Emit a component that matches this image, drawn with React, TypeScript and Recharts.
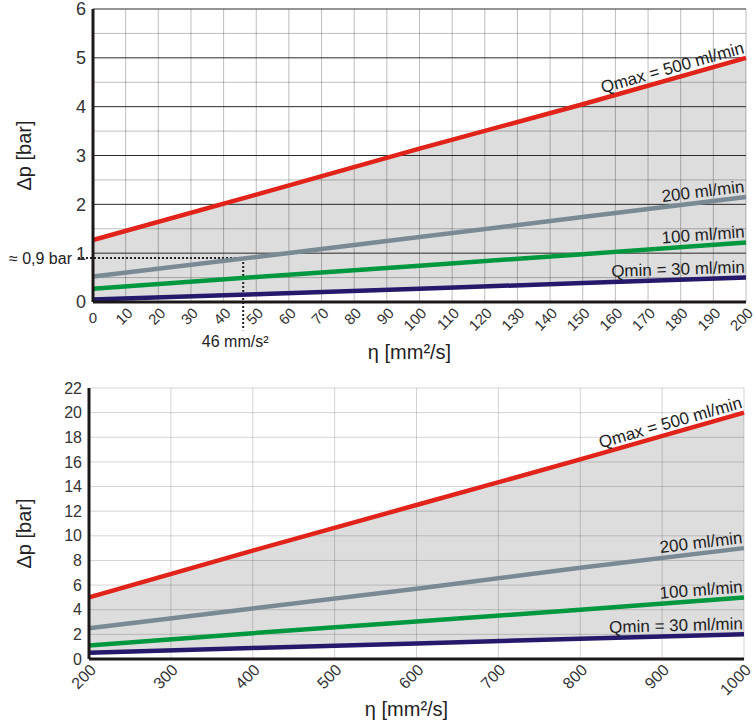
import {
  Area,
  CartesianGrid,
  ComposedChart,
  Line,
  ReferenceLine,
  XAxis,
  YAxis,
} from "recharts";

const FONT = "'Liberation Sans', Arial, sans-serif";

// upper chart, 0..200 mm²/s
const lowEta = [0, 50, 100, 150, 200];
const lowQmax = [1.27, 2.2, 3.14, 4.05, 5.0];
const low200 = [0.52, 0.92, 1.33, 1.74, 2.15];
const low100 = [0.27, 0.51, 0.74, 0.98, 1.22];
const lowQmin = [0.05, 0.16, 0.27, 0.39, 0.5];
const lowXTicks = [0, 10, 20, 30, 40, 50, 60, 70, 80, 90, 100, 110, 120, 130, 140, 150, 160, 170, 180, 190, 200];
const lowYTicks = [0, 1, 2, 3, 4, 5, 6];
const lowYMinor = [0, 0.5, 1.5, 2.5, 3.5, 4.5, 5.5];
const lowMajor = [1, 2, 3, 4, 5, 6];

// lower chart, 200..1000 mm²/s
const highEta = [200, 400, 600, 800, 1000];
const highQmax = [5.0, 8.8, 12.5, 16.2, 20.0];
const high200 = [2.5, 4.1, 5.7, 7.4, 9.0];
const high100 = [1.1, 2.1, 3.05, 4.0, 5.0];
const highQmin = [0.5, 0.9, 1.25, 1.65, 2.0];
const highXTicks = [200, 300, 400, 500, 600, 700, 800, 900, 1000];
const highYTicks = [0, 2, 4, 6, 8, 10, 12, 14, 16, 18, 20, 22];

// example reading in the upper chart
const markEta = 46;
const markDp = 0.9;

const seriesKeys = ["qmax", "q200", "q100", "qmin"];
const seriesNames = ["Qmax = 500 ml/min", "200 ml/min", "100 ml/min", "Qmin = 30 ml/min"];
const seriesColors = ["#e2231a", "#7a8a94", "#00983f", "#24196b"];

function buildRows(eta: number[], qmax: number[], q200: number[], q100: number[], qmin: number[]) {
  return eta.map((e, i) => ({
    eta: e,
    qmax: qmax[i],
    q200: q200[i],
    q100: q100[i],
    qmin: qmin[i],
    band: [qmin[i], qmax[i]],
  }));
}

const RotTick = (props: any) => {
  const { x, y, payload, fs, upright0 } = props;
  if (upright0 && payload.value === 0) {
    return (
      <text x={x} y={y + 21} textAnchor="middle" style={{ fontSize: fs }} fill="#333" fontFamily={FONT}>
        0
      </text>
    );
  }
  const ax = x + 8;
  const ay = y + 12;
  return (
    <text
      x={ax}
      y={ay}
      transform={`rotate(-45 ${ax} ${ay})`}
      textAnchor="end"
      style={{ fontSize: fs }}
      fill="#333"
      fontFamily={FONT}
    >
      {payload.value}
    </text>
  );
};

function Panel(props: any) {
  const { width, height, margin, yAxisWidth, xAxisHeight, xDomain, yDomain, xTicks, yTicks, rows, yFont, xFont, gridOpacity, yTitleDy, children, hValues } = props;
  const plotW = width - margin.left - margin.right - yAxisWidth;
  const plotH = height - margin.top - margin.bottom - xAxisHeight;
  const pxPerX = plotW / (xDomain[1] - xDomain[0]);
  const pxPerY = plotH / (yDomain[1] - yDomain[0]);
  const n = rows.length;

  const endLabel = (key: string, name: string) => {
    const a = rows[n - 2];
    const b = rows[n - 1];
    const angle = (-Math.atan(((b[key] - a[key]) * pxPerY) / ((b.eta - a.eta) * pxPerX)) * 180) / Math.PI;
    return (p: any) => {
      if (p.index !== n - 1) return <g />;
      const x = p.x - 1;
      const y = p.y - 5;
      return (
        <text
          x={x}
          y={y}
          transform={`rotate(${angle} ${x} ${y})`}
          textAnchor="end"
          fontSize={17}
          fill="#222"
          fontFamily={FONT}
        >
          {name}
        </text>
      );
    };
  };

  return (
    <ComposedChart width={width} height={height} data={rows} margin={margin}>
      <Area
        dataKey="band"
        stroke="none"
        fill="#000"
        fillOpacity={0.135}
        isAnimationActive={false}
        activeDot={false}
      />
      <CartesianGrid stroke="#000" strokeOpacity={gridOpacity} horizontalValues={hValues} />
      {children}
      <XAxis
        type="number"
        dataKey="eta"
        domain={xDomain}
        ticks={xTicks}
        interval={0}
        height={xAxisHeight}
        tickLine={false}
        tickSize={0}
        tickMargin={0}
        axisLine={{ stroke: "#1c1818", strokeWidth: 3 }}
        tick={<RotTick fs={xFont} upright0={xDomain[0] === 0} />}
        label={(lp: any) => {
          const vb = lp.viewBox;
          return (
            <text x={vb.x + vb.width / 2 - 10} y={vb.y + 57} textAnchor="middle" fontSize={20} fill="#222" fontFamily={FONT}>
              η [mm²/s]
            </text>
          );
        }}
      />
      <YAxis
        type="number"
        domain={yDomain}
        ticks={yTicks}
        interval={0}
        width={yAxisWidth}
        tickLine={false}
        tickSize={0}
        tickMargin={7}
        axisLine={{ stroke: "#1c1818", strokeWidth: 3 }}
        tick={{ fontSize: yFont, fill: "#333", fontFamily: FONT }}
        label={(lp: any) => {
          const vb = lp.viewBox;
          const cx = vb.x + 24;
          const cy = vb.y + vb.height / 2 + yTitleDy;
          return (
            <text
              x={cx}
              y={cy}
              transform={`rotate(-90 ${cx} ${cy})`}
              textAnchor="middle"
              dominantBaseline="central"
              fontSize={20}
              fill="#222"
              fontFamily={FONT}
            >
              Δp [bar]
            </text>
          );
        }}
      />
      {seriesKeys.map((k, i) => (
        <Line
          key={k}
          dataKey={k}
          type="linear"
          stroke={seriesColors[i]}
          strokeWidth={4.5}
          dot={false}
          activeDot={false}
          isAnimationActive={false}
          label={endLabel(k, seriesNames[i])}
        />
      ))}
    </ComposedChart>
  );
}

export default function App() {
  const lowRows = buildRows(lowEta, lowQmax, low200, low100, lowQmin);
  const highRows = buildRows(highEta, highQmax, high200, high100, highQmin);

  return (
    <div style={{ position: "absolute", left: 0, top: 0, width: 756, height: 725, background: "#fff", fontFamily: FONT }}>
      <Panel
        width={756}
        height={365}
        margin={{ top: 9, right: 10, left: 0, bottom: 0 }}
        yAxisWidth={93}
        xAxisHeight={63}
        xDomain={[0, 200]}
        yDomain={[0, 6]}
        xTicks={lowXTicks}
        yTicks={lowYTicks}
        hValues={lowYMinor}
        rows={lowRows}
        yFont={18}
        xFont={15}
        gridOpacity={0.26}
        yTitleDy={0}
      >
        {lowMajor.map((v) => (
          <ReferenceLine key={v} y={v} stroke="#2a2a2a" strokeWidth={1} />
        ))}
        <ReferenceLine
          segment={[{ x: -4.6, y: markDp }, { x: markEta, y: markDp }]}
          stroke="#222"
          strokeWidth={2}
          strokeDasharray="2 2"
          ifOverflow="visible"
          label={{ value: "≈ 0,9 bar", position: "left", offset: 6, fontSize: 16, fill: "#222", fontFamily: FONT }}
        />
        <ReferenceLine
          segment={[{ x: markEta, y: markDp }, { x: markEta, y: -0.58 }]}
          stroke="#222"
          strokeWidth={2}
          strokeDasharray="2 2"
          ifOverflow="visible"
          label={{ value: "46 mm/s²", position: "bottom", offset: 5, dx: -8, fontSize: 16, fill: "#222", fontFamily: FONT }}
        />
      </Panel>
      <Panel
        width={756}
        height={360}
        margin={{ top: 23, right: 12, left: 0, bottom: 0 }}
        yAxisWidth={89}
        xAxisHeight={66}
        xDomain={[200, 1000]}
        yDomain={[0, 22]}
        xTicks={highXTicks}
        yTicks={highYTicks}
        rows={highRows}
        yFont={16}
        xFont={16}
        gridOpacity={0.17}
        yTitleDy={10}
      />
    </div>
  );
}
